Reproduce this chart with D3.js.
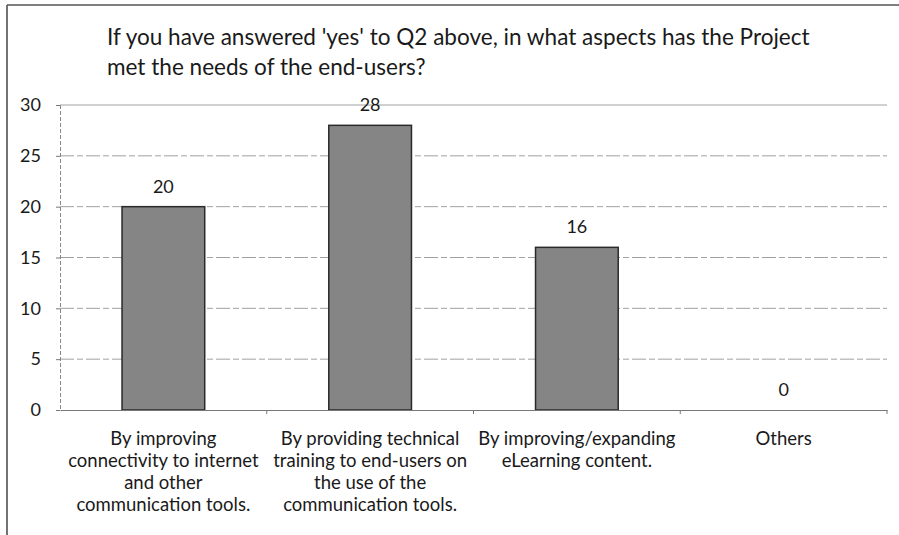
<!DOCTYPE html>
<html>
<head>
<meta charset="utf-8">
<script src="https://cdn.jsdelivr.net/npm/d3@7"></script>
<style>
  html, body { margin: 0; padding: 0; background: #fff; }
  svg { display: block; }
  text { font-family: Lato, "Open Sans", sans-serif; fill: #1a1a1a; }
</style>
</head>
<body>
<svg id="chart" width="899" height="535"></svg>
<script>
const titleLines = [
  "If you have answered 'yes' to Q2 above, in what aspects has the Project",
  "met the needs of the end-users?"
];
const categories = [
  ["By improving", "connectivity to internet", "and other", "communication tools."],
  ["By providing technical", "training to end-users on", "the use of the", "communication tools."],
  ["By improving/expanding", "eLearning content."],
  ["Others"]
];
const values = [20, 28, 16, 0];
const yTicks = [0, 5, 10, 15, 20, 25, 30];

const svg = d3.select("#chart");
const W = 899, H = 535;
const plot = { left: 60, right: 887, top: 105, bottom: 410 };

// frame
svg.append("line").attr("x1", 7).attr("x2", 7).attr("y1", 5).attr("y2", H)
  .attr("stroke", "#444").attr("stroke-width", 1.5);
svg.append("line").attr("x1", 7).attr("x2", W).attr("y1", 5).attr("y2", 5)
  .attr("stroke", "#555").attr("stroke-width", 1.5);

// title
const title = svg.append("g");
titleLines.forEach((t, i) => {
  title.append("text").attr("x", 107).attr("y", 45 + i * 30)
    .attr("font-size", 20).attr("fill", "#262626").text(t);
});
const first = title.select("text").node();
const len = first.getComputedTextLength();
title.selectAll("text").attr("font-size", 20 * 703 / len);

const x = d3.scaleBand().domain(d3.range(categories.length))
  .range([plot.left, plot.right]).paddingInner(0.6).paddingOuter(0.3);
const xOuter = d3.scaleBand().domain(d3.range(categories.length))
  .range([plot.left, plot.right]);
const y = d3.scaleLinear().domain([0, 30]).range([plot.bottom, plot.top]);

// gridlines
svg.append("g").selectAll("line").data(yTicks.filter(d => d > 0)).join("line")
  .attr("x1", plot.left).attr("x2", plot.right)
  .attr("y1", d => y(d)).attr("y2", d => y(d))
  .attr("stroke", "#a0a0a0").attr("stroke-width", 1)
  .attr("stroke-dasharray", d => d === 30 ? null : "14 3 6 3");

// y axis
const yAxis = d3.axisLeft(y).tickValues(yTicks).tickSize(4).tickPadding(15);
const ya = svg.append("g").attr("transform", `translate(${plot.left},0)`).call(yAxis)
  .attr("font-size", 18).attr("font-family", "Lato, sans-serif");
ya.select(".domain").attr("stroke", "#888").attr("stroke-dasharray", "4 2");
ya.selectAll(".tick line").attr("stroke", "#777");
ya.selectAll(".tick text").attr("fill", "#1a1a1a").attr("font-size", 18);

// bars
svg.append("g").selectAll("rect").data(values).join("rect")
  .attr("x", (d, i) => x(i)).attr("width", x.bandwidth())
  .attr("y", d => y(d)).attr("height", d => y(0) - y(d))
  .attr("fill", "#858585").attr("stroke", "#2a2a2a").attr("stroke-width", 1.5);

// x axis
const xAxis = d3.axisBottom(xOuter).tickSize(0).tickFormat("");
const xa = svg.append("g").attr("transform", `translate(0,${plot.bottom})`).call(xAxis);
xa.select(".domain").attr("stroke", "#777");
svg.append("g").selectAll("line").data(d3.range(1, categories.length + 1)).join("line")
  .attr("x1", d => plot.left + d * xOuter.step()).attr("x2", d => plot.left + d * xOuter.step())
  .attr("y1", plot.bottom).attr("y2", plot.bottom + 4).attr("stroke", "#777");

// data labels
svg.append("g").selectAll("text").data(values).join("text")
  .attr("x", (d, i) => x(i) + x.bandwidth() / 2)
  .attr("y", d => y(d) - 14)
  .attr("text-anchor", "middle").attr("font-size", 18)
  .text(d => d);

// category labels
const cl = svg.append("g");
categories.forEach((lines, i) => {
  lines.forEach((t, j) => {
    cl.append("text")
      .attr("x", xOuter(i) + xOuter.bandwidth() / 2)
      .attr("y", 445 + j * 22)
      .attr("text-anchor", "middle").attr("font-size", 18.5).text(t);
  });
});
</script>
</body>
</html>
